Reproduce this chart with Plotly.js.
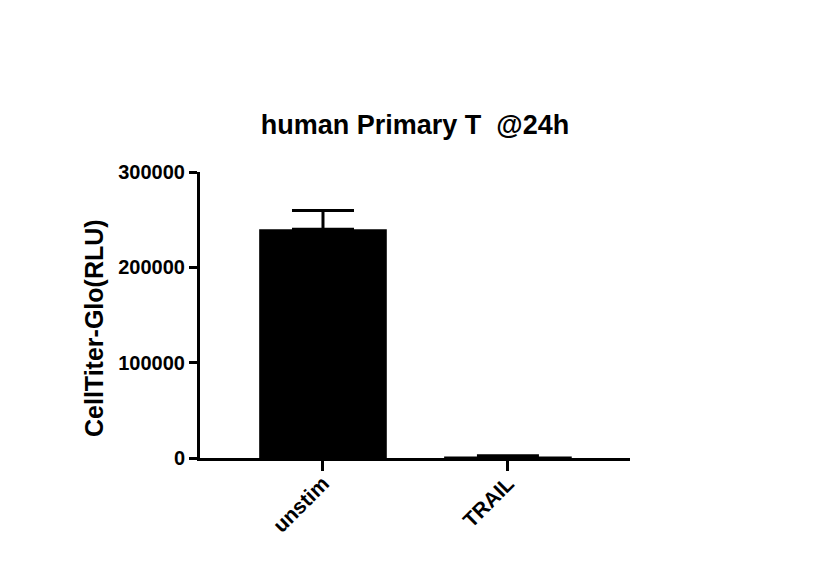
<!DOCTYPE html>
<html>
<head>
<meta charset="utf-8">
<script src="https://cdn.plot.ly/plotly-3.0.1.min.js"></script>
<style>html,body{margin:0;padding:0;background:#fff;}#chart{width:828px;height:582px;}</style>
</head>
<body>
<div id="chart"></div>
<script>
const categories = ["unstim", "TRAIL"];
const values = [240000, 1500];
const errors = [19500, 800];
const yTicks = [0, 100000, 200000, 300000];
const titleText = "human Primary T  @24h";
const yTitle = "CellTiter-Glo(RLU)";

const FONT = "Liberation Sans, Arial, Helvetica, sans-serif";

const trace = {
  type: "bar",
  x: categories,
  y: values,
  width: 0.69,
  marker: { color: "#000000", line: { width: 0 } },
  error_y: { type: "data", array: errors, symmetric: false, arrayminus: [0, 0], visible: true, color: "#000000", thickness: 3, width: 31 },
  hoverinfo: "none"
};

const layout = {
  width: 828, height: 582,
  margin: { l: 200, r: 198, t: 172, b: 124 },
  paper_bgcolor: "#ffffff", plot_bgcolor: "#ffffff",
  showlegend: false,
  title: {
    text: titleText,
    font: { family: FONT, size: 27, color: "#000", weight: "bold" },
    x: 415 / 828, xanchor: "center", xref: "container",
    y: 1 - 125 / 582, yanchor: "middle", yref: "container"
  },
  xaxis: {
    type: "category",
    range: [-0.665, 1.66],
    showline: true, linecolor: "#000", linewidth: 3,
    ticks: "outside", ticklen: 10, tickwidth: 3, tickcolor: "#000",
    tickangle: -45,
    ticklabelstandoff: -8,
    tickfont: { family: FONT, size: 21, color: "#000", weight: "bold" },
    showgrid: false, zeroline: false, fixedrange: true
  },
  yaxis: {
    range: [0, 300000],
    tickvals: yTicks, tickformat: "d",
    showline: true, linecolor: "#000", linewidth: 3,
    ticks: "outside", ticklen: 8, tickwidth: 3, tickcolor: "#000",
    tickfont: { family: FONT, size: 20, color: "#000", weight: "bold" },
    showgrid: false, zeroline: false, fixedrange: true
  },
  annotations: [{
    text: yTitle, textangle: -90,
    xref: "paper", yref: "paper",
    x: (94 - 200) / 430, y: (458 - 328) / 286,
    xanchor: "center", yanchor: "middle", showarrow: false,
    font: { family: FONT, size: 25, color: "#000", weight: "bold" }
  }]
};

Plotly.newPlot("chart", [trace], layout, { displayModeBar: false, staticPlot: true });
</script>
</body>
</html>
